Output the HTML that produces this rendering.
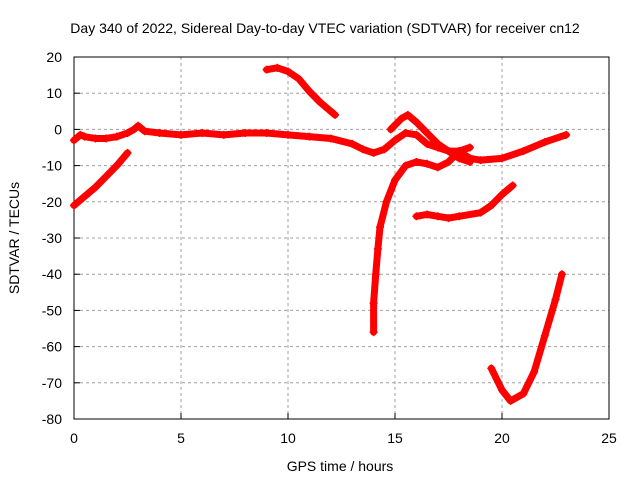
<!DOCTYPE html>
<html><head><meta charset="utf-8"><style>
body{margin:0;background:#fff;}
svg text{font-family:"Liberation Sans",sans-serif;font-size:14px;fill:#000;}
</style></head><body>
<svg width="640" height="480" xmlns="http://www.w3.org/2000/svg" id="chart">
<rect width="640" height="480" fill="#fff"/>
<g id="grid"></g>
<g id="axes"></g>
<g id="series"></g>
<text x="325" y="33" text-anchor="middle">Day 340 of 2022, Sidereal Day-to-day VTEC variation (SDTVAR) for receiver cn12</text>
<text x="340" y="471" text-anchor="middle">GPS time / hours</text>
<text x="0" y="0" text-anchor="middle" transform="translate(19,238) rotate(-90)">SDTVAR / TECUs</text>
</svg>
<script>
const xTicks=[0,5,10,15,20,25];
const yTicks=[20,10,0,-10,-20,-30,-40,-50,-60,-70,-80];
const s1x=[0,0.3,0.5,1,1.5,2,2.5,2.8,3,3.3,4,5,6,7,8,9,10,11,12,13,13.5,14,14.5,15,15.5,16,16.5,17,17.5,18,18.5,19,20,21,22,23];
const s1y=[-3,-1.5,-2,-2.5,-2.5,-2,-1,0,1,-0.5,-1,-1.5,-1,-1.5,-1,-1,-1.5,-2,-2.5,-4,-5.5,-6.5,-5.5,-3,-1,-1.5,-4,-5,-6,-6,-8,-8.5,-8,-6,-3.5,-1.5];
const s2x=[0,1,2,2.5];
const s2y=[-21,-16,-10,-6.5];
const s3x=[9,9.5,10,10.5,11,11.5,12.2];
const s3y=[16.5,17,16,14,10.5,7.5,4];
const s4x=[14,14,14.1,14.2,14.3,14.6,15,15.5,16,16.5,17,17.5,18,18.5];
const s4y=[-56,-48,-40,-33,-27,-20,-14,-10,-9,-9.5,-10.5,-9,-6,-5];
const s5x=[14.8,15.3,15.6,16,16.5,17,17.5,18,18.5];
const s5y=[0,3,4,2,-1,-4,-6,-8,-9];
const s6x=[16,16.5,17,17.5,18,19,19.5,20,20.5];
const s6y=[-24,-23.5,-24,-24.5,-24,-23,-21,-18,-15.5];
const s7x=[19.5,20,20.4,21,21.5,22,22.5,22.8];
const s7y=[-66,-72,-75,-73,-67,-57,-47,-40];
const X0=74,X1=609,Y0=57,Y1=419;
const xs=v=>X0+(v-0)/25*(X1-X0);
const ys=v=>Y0+(20-v)/100*(Y1-Y0);
const NS='http://www.w3.org/2000/svg';
function mk(t,a,p){const e=document.createElementNS(NS,t);for(const k in a)e.setAttribute(k,a[k]);p.appendChild(e);return e;}
const grid=document.getElementById('grid'),axes=document.getElementById('axes'),ser=document.getElementById('series');
xTicks.forEach(t=>{
  const x=xs(t);
  if(t>0&&t<25){const l=mk('line',{x1:x,y1:Y0,x2:x,y2:Y1,stroke:'#a0a0a0','stroke-dasharray':'3,3'},grid);
  }
  const tk=mk('line',{x1:x,y1:Y1,x2:x,y2:Y1-6,stroke:'#000'},axes);
  
  const tx=mk('text',{x:x,y:Y1+24,'text-anchor':'middle'},axes);tx.textContent=t;
  
});
yTicks.forEach(t=>{
  const y=ys(t);
  if(t<20&&t>-80){const l=mk('line',{x1:X0,y1:y,x2:X1,y2:y,stroke:'#a0a0a0','stroke-dasharray':'3,3'},grid);
  }
  const tk=mk('line',{x1:X0,y1:y,x2:X0+6,y2:y,stroke:'#000'},axes);
  
  const tx=mk('text',{x:X0-12,y:y+5,'text-anchor':'end'},axes);tx.textContent=t;
  
});
const fr=mk('rect',{x:X0,y:Y0,width:X1-X0,height:Y1-Y0,fill:'none',stroke:'#000'},axes);

[[s1x,s1y],[s2x,s2y],[s3x,s3y],[s4x,s4y],[s5x,s5y],[s6x,s6y],[s7x,s7y]].forEach((s,i)=>{
  const g=mk('g',{},ser);
  
  
  const pts=s[0].map((v,j)=>xs(v)+','+ys(s[1][j])).join(' ');
  mk('polyline',{points:pts,fill:'none',stroke:'#f00','stroke-width':7,'stroke-linejoin':'round','stroke-linecap':'round'},g);
  s[0].forEach((v,j)=>{
    const x=xs(v),y=ys(s[1][j]);
    const p=mk('path',{d:`M${x-4},${y}H${x+4}M${x},${y-4}V${y+4}`,stroke:'#f00','stroke-width':1.5},g);
    
    
  });
});
</script>
</body></html>
